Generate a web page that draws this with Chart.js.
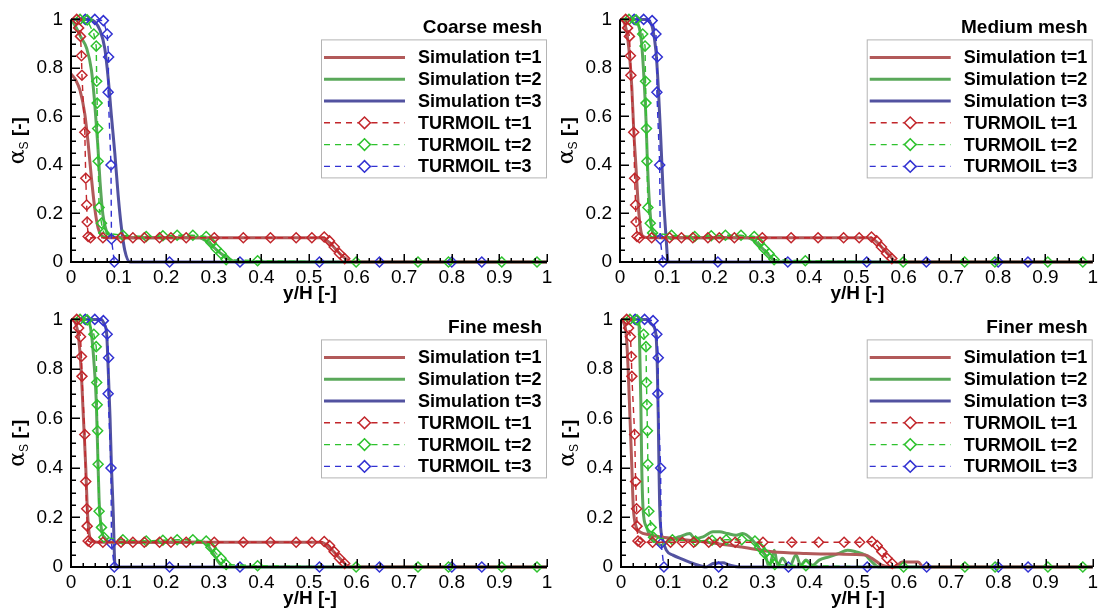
<!DOCTYPE html>
<html><head><meta charset="utf-8">
<script src="https://cdn.jsdelivr.net/npm/chart.js@4.4.1/dist/chart.umd.min.js"></script>
<style>
html,body{margin:0;padding:0;background:#fff;}
#wrap{position:relative;width:1102px;height:616px;overflow:hidden;background:#fff;}
canvas{position:absolute;}
</style></head><body>
<div id="wrap">
<canvas id="c1" width="560" height="306" style="left:0px;top:0px"></canvas>
<canvas id="c2" width="551" height="306" style="left:551px;top:0px"></canvas>
<canvas id="c3" width="560" height="316" style="left:0px;top:300px"></canvas>
<canvas id="c4" width="551" height="316" style="left:551px;top:300px"></canvas>
</div>
<script>
// ---------- data ----------
const panelTitles = ['Coarse mesh', 'Medium mesh', 'Fine mesh', 'Finer mesh'];
const seriesNames = ['Simulation t=1', 'Simulation t=2', 'Simulation t=3', 'TURMOIL t=1', 'TURMOIL t=2', 'TURMOIL t=3'];
const xTickValues = [0, 0.1, 0.2, 0.3, 0.4, 0.5, 0.6, 0.7, 0.8, 0.9, 1];
const xTickLabels = ['0', '0.1', '0.2', '0.3', '0.4', '0.5', '0.6', '0.7', '0.8', '0.9', '1'];
const yTickValues = [0, 0.2, 0.4, 0.6, 0.8, 1];
const yTickLabels = ['0', '0.2', '0.4', '0.6', '0.8', '1'];

// TURMOIL reference (same in all panels)
const turmoil1X = [0.012, 0.016, 0.02, 0.022, 0.023, 0.029, 0.031, 0.033, 0.034, 0.036, 0.041, 0.067, 0.105, 0.13, 0.154, 0.186, 0.21, 0.242, 0.301, 0.362, 0.419, 0.473, 0.506, 0.532, 0.543, 0.553, 0.564, 0.575];
const turmoil1Y = [1.0, 0.965, 0.93, 0.85, 0.77, 0.535, 0.345, 0.235, 0.165, 0.105, 0.1, 0.1, 0.1, 0.1, 0.1, 0.1, 0.1, 0.1, 0.1, 0.1, 0.1, 0.1, 0.1, 0.103, 0.087, 0.062, 0.035, 0.014];
const turmoil2X = [0.019, 0.034, 0.048, 0.053, 0.054, 0.055, 0.056, 0.057, 0.059, 0.064, 0.069, 0.109, 0.158, 0.193, 0.223, 0.256, 0.284, 0.294, 0.305, 0.315, 0.326, 0.392, 0.599, 0.729, 0.793, 0.905, 0.979];
const turmoil2Y = [1.0, 0.998, 0.94, 0.89, 0.745, 0.655, 0.55, 0.415, 0.225, 0.16, 0.12, 0.11, 0.105, 0.108, 0.11, 0.11, 0.105, 0.08, 0.055, 0.035, 0.01, 0.005, 0.0, 0.0, 0.0, 0.0, 0.0];
const turmoil3X = [0.03, 0.05, 0.068, 0.076, 0.079, 0.078, 0.084, 0.085, 0.091, 0.207, 0.355, 0.522, 0.648, 0.8, 0.863];
const turmoil3Y = [1.0, 1.0, 0.995, 0.94, 0.845, 0.70, 0.40, 0.095, 0.0, 0.0, 0.0, 0.0, 0.0, 0.0, 0.0];

// Coarse mesh
const coarseSim1X = [0, 0.01, 0.019, 0.029, 0.036, 0.043, 0.05, 0.057, 0.064, 0.075, 0.1, 0.3, 0.525, 0.54, 0.555, 0.57, 0.59, 0.62, 1.0];
const coarseSim1Y = [0.775, 0.75, 0.707, 0.61, 0.49, 0.345, 0.22, 0.14, 0.11, 0.1, 0.1, 0.1, 0.1, 0.085, 0.055, 0.025, 0.0, 0, 0];
const coarseSim2X = [0, 0.01, 0.02, 0.033, 0.043, 0.05, 0.056, 0.061, 0.067, 0.074, 0.082, 0.1, 0.2, 0.27, 0.285, 0.3, 0.315, 0.33, 0.348, 0.4, 1.0];
const coarseSim2Y = [1, 0.97, 0.93, 0.88, 0.79, 0.65, 0.49, 0.33, 0.195, 0.13, 0.11, 0.1, 0.1, 0.1, 0.085, 0.06, 0.035, 0.015, 0, 0, 0];
const coarseSim3X = [0, 0.04, 0.05, 0.061, 0.071, 0.078, 0.085, 0.092, 0.099, 0.106, 0.113, 0.124, 0.2, 1.0];
const coarseSim3Y = [1, 1, 0.99, 0.955, 0.88, 0.76, 0.6, 0.45, 0.277, 0.14, 0.048, 0, 0, 0];

// Medium mesh
const mediumSim1X = [0, 0.008, 0.014, 0.02, 0.025, 0.029, 0.034, 0.039, 0.044, 0.049, 0.06, 0.3, 0.525, 0.54, 0.555, 0.57, 0.585, 0.62, 1.0];
const mediumSim1Y = [1, 0.99, 0.95, 0.855, 0.72, 0.546, 0.385, 0.223, 0.13, 0.105, 0.1, 0.1, 0.1, 0.088, 0.058, 0.028, 0.0, 0, 0];
const mediumSim2X = [0, 0.03, 0.041, 0.046, 0.051, 0.055, 0.058, 0.062, 0.067, 0.076, 0.09, 0.27, 0.285, 0.3, 0.315, 0.33, 0.4, 1.0];
const mediumSim2Y = [1, 1, 0.963, 0.895, 0.747, 0.586, 0.411, 0.25, 0.142, 0.108, 0.1, 0.1, 0.085, 0.058, 0.028, 0.0, 0, 0];
const mediumSim3X = [0, 0.056, 0.063, 0.069, 0.076, 0.081, 0.086, 0.091, 0.097, 0.102, 0.2, 1.0];
const mediumSim3Y = [1, 1, 0.99, 0.963, 0.87, 0.72, 0.52, 0.30, 0.115, 0.0, 0, 0];

// Fine mesh
const fineSim1X = [0, 0.008, 0.015, 0.021, 0.026, 0.031, 0.034, 0.038, 0.043, 0.055, 0.3, 0.525, 0.54, 0.555, 0.57, 0.585, 0.62, 1.0];
const fineSim1Y = [1, 0.99, 0.94, 0.806, 0.605, 0.404, 0.244, 0.137, 0.11, 0.1, 0.1, 0.1, 0.085, 0.055, 0.025, 0, 0, 0];
const fineSim2X = [0, 0.036, 0.043, 0.048, 0.053, 0.056, 0.059, 0.064, 0.071, 0.085, 0.28, 0.29, 0.3, 0.31, 0.32, 0.4, 1.0];
const fineSim2Y = [1, 1, 0.94, 0.833, 0.673, 0.472, 0.271, 0.151, 0.118, 0.1, 0.1, 0.08, 0.05, 0.02, 0, 0, 0];
const fineSim3X = [0, 0.064, 0.07, 0.075, 0.078, 0.082, 0.085, 0.089, 0.091, 0.093, 0.2, 1.0];
const fineSim3Y = [1, 1, 0.98, 0.94, 0.806, 0.605, 0.404, 0.204, 0.057, 0, 0, 0];

// Finer mesh
const finerSim1X = [0, 0.005, 0.011, 0.015, 0.019, 0.023, 0.026, 0.032, 0.04, 0.06, 0.082, 0.11, 0.181, 0.251, 0.321, 0.392, 0.462, 0.518, 0.532, 0.553, 0.58, 0.596, 0.63, 0.641, 0.7, 1.0];
const finerSim1Y = [1, 0.99, 0.94, 0.806, 0.604, 0.404, 0.244, 0.163, 0.142, 0.13, 0.122, 0.115, 0.1, 0.082, 0.062, 0.055, 0.052, 0.048, 0.035, 0.008, 0.0, 0.02, 0.02, 0, 0, 0];
const finerSim2X = [0, 0.037, 0.039, 0.042, 0.044, 0.047, 0.054, 0.061, 0.072, 0.086, 0.103, 0.124, 0.146, 0.156, 0.174, 0.195, 0.209, 0.226, 0.244, 0.258, 0.279, 0.293, 0.307, 0.314, 0.325, 0.332, 0.342, 0.357, 0.371, 0.381, 0.392, 0.406, 0.42, 0.441, 0.462, 0.48, 0.497, 0.518, 0.532, 0.546, 0.6, 1.0];
const finerSim2Y = [1, 1, 0.94, 0.672, 0.404, 0.229, 0.162, 0.128, 0.102, 0.088, 0.108, 0.122, 0.135, 0.115, 0.122, 0.142, 0.142, 0.135, 0.128, 0.135, 0.108, 0.075, 0.041, 0.0, 0.068, 0.007, 0.035, 0.0, 0.048, 0.007, 0.028, 0.007, 0.028, 0.041, 0.055, 0.068, 0.062, 0.048, 0.021, 0.0, 0, 0];
const finerSim3X = [0, 0.054, 0.065, 0.074, 0.077, 0.079, 0.0805, 0.082, 0.084, 0.087, 0.096, 0.11, 0.131, 0.153, 0.181, 0.195, 0.216, 0.23, 0.251, 0.4, 1.0];
const finerSim3Y = [1, 1, 0.98, 0.94, 0.806, 0.604, 0.404, 0.244, 0.16, 0.12, 0.068, 0.048, 0.031, 0.014, 0.0, 0.014, 0.017, 0.008, 0, 0, 0];

// ---------- styling ----------
const SIM_COLORS = ['#b25a5a', '#5aa85a', '#5252a0'];
const TUR_COLORS = ['#c2262b', '#2ec22e', '#3232d2'];
const FONT = '"Liberation Sans", Arial, Helvetica, sans-serif';
Chart.defaults.font.family = FONT;
Chart.defaults.color = '#000';

function pts(xs, ys) { return xs.map((x, i) => ({ x: x, y: ys[i] })); }

const decorPlugin = {
  id: 'decor',
  afterDraw(chart, args, opts) {
    const ctx = chart.ctx, a = chart.chartArea;
    const xs = chart.scales.x, ys = chart.scales.y;
    ctx.save();
    ctx.strokeStyle = '#000';
    ctx.lineCap = 'butt';
    // inward ticks
    ctx.lineWidth = 1.5;
    ctx.beginPath();
    for (let i = 0; i <= 40; i++) {
      const px = Math.round(xs.getPixelForValue(i / 40)) + 0.25;
      const len = (i % 4 === 0) ? 8 : 4;
      ctx.moveTo(px, a.bottom); ctx.lineTo(px, a.bottom - len);
    }
    for (let i = 0; i <= 20; i++) {
      const py = Math.round(ys.getPixelForValue(i / 20)) + 0.25;
      const len = (i % 4 === 0) ? 9 : 5;
      ctx.moveTo(a.left, py); ctx.lineTo(a.left + len, py);
    }
    ctx.stroke();
    // axis lines
    ctx.lineWidth = 2;
    ctx.beginPath();
    ctx.moveTo(a.left, a.top); ctx.lineTo(a.left, a.bottom); ctx.lineTo(a.right, a.bottom);
    ctx.stroke();

    // x title
    ctx.fillStyle = '#000';
    ctx.font = 'bold 19px ' + FONT;
    ctx.textAlign = 'center'; ctx.textBaseline = 'middle';
    ctx.fillText('y/H [-]', (a.left + a.right) / 2 + 1, a.bottom + 32);

    // y title (rotated) alpha_s [-]
    ctx.save();
    ctx.translate(a.left - 53, (a.top + a.bottom) / 2);
    ctx.rotate(-Math.PI / 2);
    ctx.textAlign = 'left'; ctx.textBaseline = 'alphabetic';
    const f1 = '22px "DejaVu Serif", "Liberation Serif", serif';
    const f2 = '12px ' + FONT;
    const f3 = 'bold 19px ' + FONT;
    ctx.font = f1; const w1 = ctx.measureText('α').width;
    ctx.font = f2; const w2 = ctx.measureText('S').width;
    ctx.font = f3; const w3 = ctx.measureText(' [-]').width;
    let sx = -(w1 + w2 + w3) / 2;
    ctx.font = f1; ctx.fillText('α', sx, 6); sx += w1;
    ctx.font = f2; ctx.fillText('S', sx, 10); sx += w2;
    ctx.font = f3; ctx.fillText(' [-]', sx, 7);
    ctx.restore();

    // panel title
    ctx.font = 'bold 19px ' + FONT;
    ctx.textAlign = 'right'; ctx.textBaseline = 'middle';
    ctx.fillText(opts.title, a.right - 5, a.top + 8);

    // legend box
    const bx = a.right - 226, by = a.top + 20, bw = 225, bh = 138;
    ctx.fillStyle = '#fff';
    ctx.fillRect(bx, by, bw, bh);
    ctx.strokeStyle = '#b4b4b4';
    ctx.lineWidth = 1;
    ctx.strokeRect(bx + 0.5, by + 0.5, bw, bh);
    const dsList = chart.data.datasets;
    dsList.forEach((ds, row) => {
      const ry = by + 18 + row * 21.8;
      const l0 = bx + 3, l1 = bx + 84, cx = (l0 + l1) / 2;
      ctx.save();
      ctx.strokeStyle = ds.borderColor;
      ctx.lineWidth = ds.borderWidth;
      ctx.setLineDash(ds.borderDash || []);
      ctx.beginPath();
      if (ds.pointRadius > 0) {
        ctx.moveTo(l0, ry); ctx.lineTo(cx - 7, ry);
        ctx.moveTo(cx + 7, ry); ctx.lineTo(l1, ry);
      } else {
        ctx.moveTo(l0, ry); ctx.lineTo(l1, ry);
      }
      ctx.stroke();
      if (ds.pointRadius > 0) {
        ctx.setLineDash([]);
        ctx.lineWidth = ds.pointBorderWidth;
        const r = ds.pointRadius + 0.8;
        ctx.beginPath();
        ctx.moveTo(cx - 7, ry); ctx.lineTo(cx - r, ry);
        ctx.moveTo(cx + r, ry); ctx.lineTo(cx + 7, ry);
        ctx.stroke();
        ctx.beginPath();
        ctx.moveTo(cx, ry - r); ctx.lineTo(cx + r, ry); ctx.lineTo(cx, ry + r); ctx.lineTo(cx - r, ry); ctx.closePath();
        ctx.fillStyle = '#fff'; ctx.fill();
        ctx.stroke();
      }
      ctx.restore();
      ctx.fillStyle = '#000';
      ctx.font = 'bold 18px ' + FONT;
      ctx.textAlign = 'left'; ctx.textBaseline = 'middle';
      ctx.fillText(ds.label, bx + 97, ry + 1);
    });
    ctx.restore();
  }
};

function simDs(label, xs, ys, color) {
  return {
    label: label, data: pts(xs, ys), borderColor: color, backgroundColor: color,
    borderWidth: 3, pointRadius: 0, pointHoverRadius: 0, cubicInterpolationMode: 'monotone',
    order: 1, clip: false
  };
}
function turDs(label, xs, ys, color) {
  return {
    label: label, data: pts(xs, ys), borderColor: color, backgroundColor: 'rgba(0,0,0,0)',
    borderWidth: 1.4, borderDash: [6, 5], tension: 0,
    pointStyle: 'rectRot', pointRadius: 5, pointBorderWidth: 1.5,
    pointBorderColor: color, pointBackgroundColor: 'rgba(0,0,0,0)',
    order: 0, clip: false
  };
}

function makeChart(id, title, sims, layout) {
  const datasets = [
    simDs(seriesNames[0], sims[0], sims[1], SIM_COLORS[0]),
    simDs(seriesNames[1], sims[2], sims[3], SIM_COLORS[1]),
    simDs(seriesNames[2], sims[4], sims[5], SIM_COLORS[2]),
    turDs(seriesNames[3], turmoil1X, turmoil1Y, TUR_COLORS[0]),
    turDs(seriesNames[4], turmoil2X, turmoil2Y, TUR_COLORS[1]),
    turDs(seriesNames[5], turmoil3X, turmoil3Y, TUR_COLORS[2])
  ];
  return new Chart(document.getElementById(id), {
    type: 'line',
    data: { datasets: datasets },
    plugins: [decorPlugin],
    options: {
      responsive: false, animation: false, devicePixelRatio: 1,
      layout: { padding: { left: 0, right: layout.right, top: layout.top, bottom: 0 } },
      plugins: { legend: { display: false }, tooltip: { enabled: false }, decor: { title: title } },
      scales: {
        x: {
          type: 'linear', min: 0, max: 1,
          grid: { display: false, drawTicks: false }, border: { display: false },
          afterBuildTicks: (s) => { s.ticks = xTickValues.map(v => ({ value: v })); },
          ticks: {
            autoSkip: false, maxRotation: 0, padding: 4, font: { size: 19 }, color: '#000',
            callback: (v) => { const i = xTickValues.findIndex(t => Math.abs(t - v) < 1e-9); return i >= 0 ? xTickLabels[i] : ''; }
          },
          afterFit: (s) => { s.height = layout.xh; }
        },
        y: {
          type: 'linear', min: 0, max: 1,
          grid: { display: false, drawTicks: false }, border: { display: false },
          afterBuildTicks: (s) => { s.ticks = yTickValues.map(v => ({ value: v })); },
          ticks: {
            padding: 8, font: { size: 19 }, color: '#000',
            callback: (v) => { const i = yTickValues.findIndex(t => Math.abs(t - v) < 1e-9); return i >= 0 ? yTickLabels[i] : ''; }
          },
          afterFit: (s) => { s.width = layout.yw; }
        }
      }
    }
  });
}

makeChart('c1', panelTitles[0], [coarseSim1X, coarseSim1Y, coarseSim2X, coarseSim2Y, coarseSim3X, coarseSim3Y], { yw: 71, xh: 44, top: 14, right: 13 });
makeChart('c2', panelTitles[1], [mediumSim1X, mediumSim1Y, mediumSim2X, mediumSim2Y, mediumSim3X, mediumSim3Y], { yw: 69, xh: 44, top: 14, right: 8 });
makeChart('c3', panelTitles[2], [fineSim1X, fineSim1Y, fineSim2X, fineSim2Y, fineSim3X, fineSim3Y], { yw: 71, xh: 49, top: 18, right: 13 });
makeChart('c4', panelTitles[3], [finerSim1X, finerSim1Y, finerSim2X, finerSim2Y, finerSim3X, finerSim3Y], { yw: 70, xh: 49, top: 18, right: 7 });
</script>
</body></html>
